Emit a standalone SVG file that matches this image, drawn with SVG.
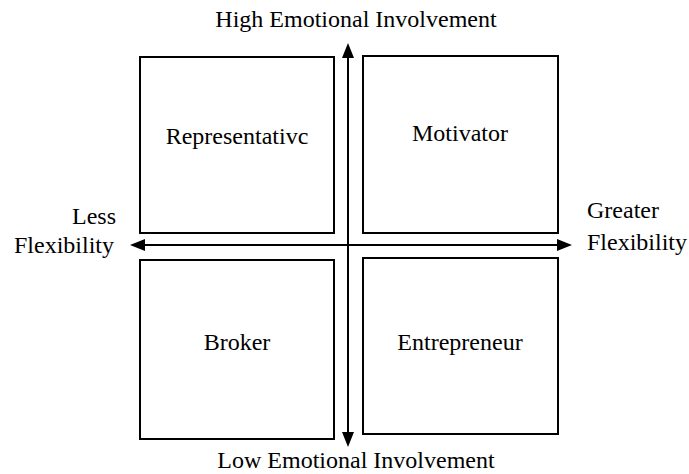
<svg xmlns="http://www.w3.org/2000/svg" width="689" height="474" viewBox="0 0 689 474">
<style>
text{font-family:"Liberation Serif","Times New Roman",serif;font-size:24px;fill:#000}
.box{fill:#fff;stroke:#000;stroke-width:2}
.ax{stroke:#000;stroke-width:2;fill:none}
</style>
<rect width="689" height="474" fill="#fff"/>
<g id="rep"><rect class="box" x="140" y="57" width="194" height="176"/><text x="237" y="144" text-anchor="middle">Representativc</text></g>
<g id="mot"><rect class="box" x="363" y="56" width="195" height="177"/><text x="460" y="141" text-anchor="middle">Motivator</text></g>
<g id="bro"><rect class="box" x="140" y="260" width="194" height="179"/><text x="237" y="350" text-anchor="middle">Broker</text></g>
<g id="ent"><rect class="box" x="363" y="258" width="195" height="176"/><text x="460" y="350" text-anchor="middle">Entrepreneur</text></g>
<g id="axes">
<line class="ax" x1="348" y1="440" x2="348" y2="50"/>
<line class="ax" x1="137" y1="245" x2="565" y2="245"/>
<path d="M348,43L342,58L354,58z"/>
<path d="M348,447L342,432L354,432z"/>
<path d="M130,245L145,239L145,251z"/>
<path d="M572,245L557,239L557,251z"/>
</g>
<g id="labels">
<text x="356" y="27" text-anchor="middle">High Emotional Involvement</text>
<text x="356" y="468" text-anchor="middle">Low Emotional Involvement</text>
<text x="116" y="224" text-anchor="end">Less</text>
<text x="114" y="253" text-anchor="end">Flexibility</text>
<text x="587" y="218">Greater</text>
<text x="587" y="250">Flexibility</text>
</g>
</svg>
